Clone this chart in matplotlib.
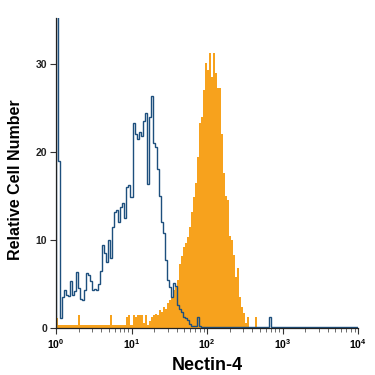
import numpy as np
import matplotlib
matplotlib.use("Agg")
import matplotlib.pyplot as plt
from matplotlib.ticker import FixedLocator, LogLocator, NullFormatter

plt.rcParams['font.family'] = ['Liberation Sans', 'DejaVu Sans']
plt.rcParams['mathtext.fontset'] = 'custom'
plt.rcParams['mathtext.rm'] = 'Liberation Sans:bold'
plt.rcParams['mathtext.it'] = 'Liberation Sans:bold'
plt.rcParams['mathtext.default'] = 'rm'

# histogram bins: 150 log-spaced channels from 10^0 to 10^4
n_bins = 150

# isotype control (blue outline)
control = [36.0, 19.0, 1.1, 3.5, 4.3, 3.8, 3.6, 5.3, 3.8, 4.2,
           6.4, 4.5, 3.3, 3.2, 4.3, 6.2, 6.0, 5.3, 4.3, 4.4,
           4.3, 5.0, 6.5, 9.4, 8.5, 7.5, 10.0, 8.0, 11.5, 13.2,
           13.4, 12.0, 13.7, 14.2, 12.5, 16.0, 16.2, 14.9, 23.3, 22.0,
           21.5, 22.2, 21.8, 23.5, 24.4, 16.3, 24.0, 26.3, 21.0, 20.6,
           18.0, 15.0, 12.0, 10.8, 7.7, 5.5, 4.6, 3.5, 5.1, 4.8,
           2.6, 2.2, 1.8, 1.3, 1.1, 0.9, 0.4, 0.2, 0.2, 0.2,
           1.3, 0.2] + [0.15] * 34 + [1.3] + [0.15] * 43

# Nectin-4 stained (orange fill)
nectin4 = [1.1, 0.3, 0.3, 0.3, 0.3, 0.3, 0.3, 0.3, 0.3, 0.3,
           0.3, 1.5, 0.3, 0.3, 0.3, 0.3, 0.3, 0.3, 0.3, 0.3,
           0.3, 0.3, 0.3, 0.3, 0.3, 0.3, 0.3, 1.5, 0.3, 0.3,
           0.3, 0.3, 0.3, 0.3, 0.3, 1.2, 1.5, 0.3, 1.5, 1.3,
           1.5, 1.5, 1.5, 0.6, 1.5, 0.3, 0.8, 1.3, 1.5, 1.6,
           1.5, 2.0, 1.8, 2.4, 2.2, 2.8, 3.2, 3.5, 4.3, 4.7,
           5.5, 7.3, 8.2, 9.2, 9.7, 10.3, 11.5, 13.2, 14.9, 16.5,
           19.4, 23.3, 24.0, 27.0, 30.1, 29.3, 31.2, 28.5, 31.2, 29.0,
           27.3, 27.3, 22.0, 17.6, 15.0, 14.5, 10.5, 10.0, 8.3, 5.8,
           6.8, 3.5, 2.4, 1.7, 0.6, 1.3, 0.0, 0.0, 0.0, 1.3] + [0.0] * 50

y_ticks = [0, 10, 20, 30]
x_ticks = [1, 10, 100, 1000, 10000]
x_tick_labels = [r'$10^{0}$', r'$10^{1}$', r'$10^{2}$', r'$10^{3}$', r'$10^{4}$']

edges = np.logspace(0, 4, n_bins + 1)

fig = plt.figure(figsize=(3.75, 3.75), dpi=100)
ax = fig.add_axes([56 / 375, 1 - 328 / 375, 302 / 375, 310 / 375])

ax.stairs(nectin4, edges, fill=True, color='#f7a21d', linewidth=0)
ax.stairs(control, edges, color='#1d4f7d', linewidth=1.0)

ax.set_xscale('log')
ax.set_xlim(1, 10000)
ax.set_ylim(0, 35.2)

ax.xaxis.set_major_locator(FixedLocator(x_ticks))
ax.set_xticklabels(x_tick_labels)
ax.xaxis.set_minor_locator(LogLocator(base=10, subs=np.arange(2, 10)))
ax.xaxis.set_minor_formatter(NullFormatter())
ax.set_yticks(y_ticks)

for s in ['top', 'right']:
    ax.spines[s].set_visible(False)
for s in ['left', 'bottom']:
    ax.spines[s].set_color('#222222')
    ax.spines[s].set_linewidth(0.9)

ax.tick_params(axis='both', which='major', direction='out', length=4.5, width=0.8,
               color='#333333', labelsize=7.5, pad=2)
ax.tick_params(axis='x', which='minor', direction='out', length=3, width=0.6, color='#555555')
for lab in ax.get_yticklabels():
    lab.set_fontweight('bold')
    lab.set_color('#222222')

ax.set_xlabel('Nectin-4', fontsize=13, fontweight='bold')
ax.set_ylabel('Relative Cell Number', fontsize=11.5, fontweight='bold')
ax.xaxis.set_label_coords(0.5, -0.094)
ax.yaxis.set_label_coords(-0.109, 0.477)

fig.savefig('out.png', dpi=100)
